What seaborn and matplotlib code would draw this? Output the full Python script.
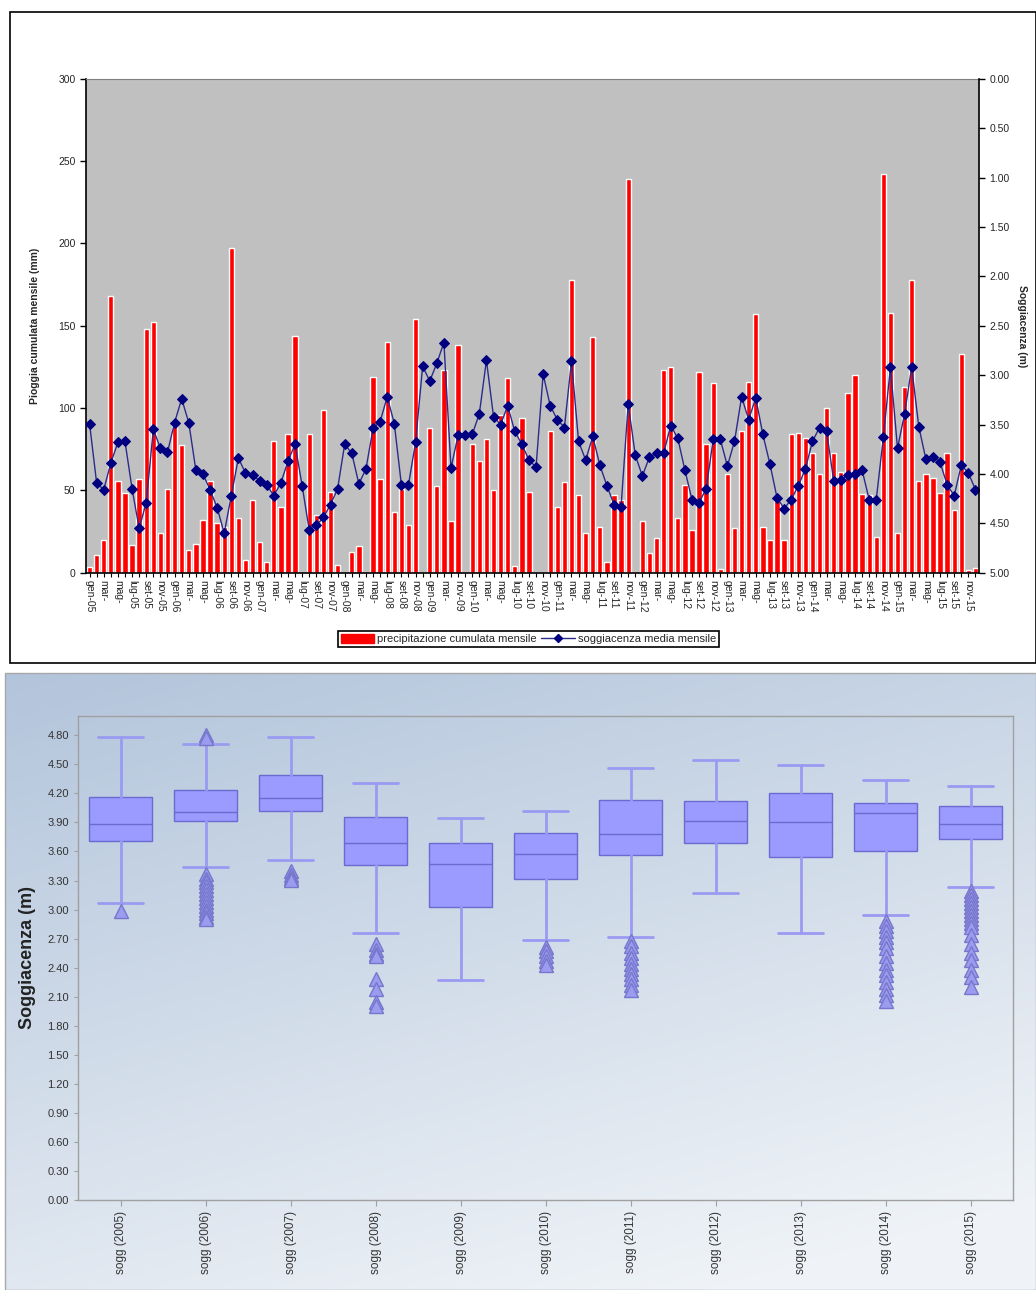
import matplotlib.pyplot as plt
import matplotlib.patches as mpatches
from matplotlib.lines import Line2D
from matplotlib.ticker import FormatStrFormatter
import numpy as np
import pandas as pd
import seaborn as sns

MESI = ["gen", "feb", "mar", "apr", "mag", "giu", "lug", "ago", "set", "ott", "nov", "dic"]
ANNI = list(range(2005, 2016))
# mesi assenti nella serie
MESI_MANCANTI = ["mag-09", "giu-09", "lug-09", "ago-09", "set-09", "ott-09"]

# precipitazione cumulata mensile (mm)
pioggia = [3.8, 11, 20, 168, 56, 48.5, 17, 57, 148, 152, 24, 51, 92, 77.5, 14, 17.5, 32, 56, 30, 28,
           197, 33, 7.5, 44, 18.6, 6.5, 80, 40, 84, 144, 0, 84, 35, 99, 49, 5, 0, 12.5, 16.5, 0,
           119, 57, 140, 37, 51, 29, 154, 0, 88, 52.5, 123, 31.7, 138, 0, 78, 68, 81, 50, 96, 118,
           4.4, 94, 49, 0, 0, 86, 40, 55, 178, 47, 24, 143, 27.7, 6.5, 47, 44, 239, 0, 31.7, 12,
           21, 123, 125, 33, 53, 26, 122, 78, 115, 2, 60, 27, 86, 116, 157, 27.5, 20, 45, 20, 84,
           85, 81.6, 72.5, 60, 100, 73, 61.4, 109, 120, 48, 47, 21.6, 242, 158, 24, 112.5, 178, 56, 60, 57.6,
           48.3, 73, 38, 133, 1.4, 2.6]

# soggiacenza media mensile (m)
soggiacenza = [3.49, 4.09, 4.16, 3.89, 3.68, 3.67, 4.15, 4.55, 4.29, 3.55, 3.74, 3.78, 3.48, 3.24, 3.48, 3.96, 4.00, 4.16, 4.34, 4.60,
               4.22, 3.84, 3.99, 4.01, 4.07, 4.11, 4.22, 4.09, 3.87, 3.70, 4.12, 4.57, 4.52, 4.44, 4.31, 4.15, 3.70, 3.79, 4.10, 3.95,
               3.54, 3.47, 3.22, 3.49, 4.11, 4.11, 3.68, 2.91, 3.06, 2.88, 2.67, 3.94, 3.61, 3.61, 3.60, 3.39, 2.85, 3.42, 3.50, 3.31,
               3.57, 3.70, 3.86, 3.93, 2.99, 3.31, 3.45, 3.53, 2.86, 3.67, 3.86, 3.62, 3.91, 4.12, 4.31, 4.33, 3.29, 3.81, 4.02, 3.83,
               3.79, 3.79, 3.51, 3.64, 3.96, 4.26, 4.29, 4.15, 3.65, 3.65, 3.92, 3.67, 3.22, 3.45, 3.23, 3.60, 3.90, 4.24, 4.35, 4.26,
               4.12, 3.95, 3.67, 3.53, 3.57, 4.07, 4.06, 4.01, 4.00, 3.96, 4.26, 4.26, 3.63, 2.92, 3.74, 3.39, 2.92, 3.52, 3.85, 3.83,
               3.88, 4.11, 4.22, 3.91, 3.99, 4.16]

# statistiche box plot annuali (m)
box_labels = [f"sogg ({a})" for a in ANNI]
box_q1 = [3.71, 3.91, 4.02, 3.46, 3.03, 3.32, 3.56, 3.69, 3.54, 3.61, 3.73]
box_med = [3.88, 4.01, 4.15, 3.69, 3.47, 3.57, 3.78, 3.91, 3.90, 4.00, 3.88]
box_q3 = [4.16, 4.24, 4.39, 3.96, 3.69, 3.79, 4.13, 4.12, 4.20, 4.10, 4.07]
box_whislo = [3.07, 3.44, 3.51, 2.76, 2.27, 2.69, 2.72, 3.17, 2.76, 2.94, 3.23]
box_whishi = [4.78, 4.71, 4.78, 4.31, 3.95, 4.02, 4.46, 4.55, 4.49, 4.34, 4.28]
box_fliers = [
    [2.98],
    [4.80, 4.77, 3.37, 3.32, 3.28, 3.24, 3.20, 3.16, 3.12, 3.08, 3.04, 3.00, 2.96, 2.92, 2.90],
    [3.40, 3.36, 3.33, 3.31],
    [2.64, 2.58, 2.54, 2.52, 2.28, 2.18, 2.05, 2.00],
    [],
    [2.61, 2.57, 2.52, 2.47, 2.43],
    [2.67, 2.62, 2.55, 2.50, 2.44, 2.39, 2.33, 2.28, 2.22, 2.17],
    [],
    [],
    [2.88, 2.83, 2.78, 2.72, 2.66, 2.60, 2.52, 2.45, 2.38, 2.32, 2.25, 2.18, 2.12, 2.06],
    [3.19, 3.15, 3.11, 3.07, 3.03, 2.98, 2.94, 2.90, 2.86, 2.82, 2.74, 2.64, 2.55, 2.48, 2.38, 2.30, 2.20],
]

sns.set_style("white")
plt.rcParams['font.family'] = ['Liberation Sans', 'DejaVu Sans']

mesi = [f"{m}-{a % 100:02d}" for a in ANNI for m in MESI]
mesi = [m for m in mesi if m not in MESI_MANCANTI]
df = pd.DataFrame({"mese": mesi, "pioggia": pioggia, "soggiacenza": soggiacenza})

fig = plt.figure(figsize=(10.36, 12.9), dpi=100)

# sfondo sfumato del pannello inferiore
ax_bg = fig.add_axes([0.005, 0.0, 0.995, 0.478], zorder=0)
v, h = np.mgrid[0:1:200j, 0:1:200j]
t = np.clip(0.75 * v + 0.35 * h, 0, 1)
c0 = np.array([0.70, 0.77, 0.86])
c1 = np.array([0.94, 0.955, 0.97])
grad = c0[None, None, :] * (1 - t[..., None]) + c1[None, None, :] * t[..., None]
ax_bg.imshow(grad, aspect="auto", extent=[0, 1, 0, 1])
ax_bg.set_axis_off()
fig.add_artist(mpatches.Rectangle((0.005, 0.0), 0.995, 0.478, transform=fig.transFigure,
                                  fill=False, edgecolor="#a8a8a8", lw=1))

# pannello superiore: pioggia + soggiacenza
fig.add_artist(mpatches.Rectangle((0.0097, 0.486), 0.99, 0.5045, transform=fig.transFigure,
                                  fill=False, edgecolor="black", lw=1.2))
ax1 = fig.add_axes([0.083, 0.556, 0.862, 0.383], zorder=2)
ax1.set_facecolor("#c0c0c0")
sns.barplot(data=df, x="mese", y="pioggia", color="#ff0000", saturation=1, width=0.75, ax=ax1)
ax1.set_ylim(0, 300)
ax1.set_yticks(range(0, 301, 50))
ax1.set_xlim(-0.5, len(mesi) - 0.5)
tick_txt = []
for i, m in enumerate(mesi):
    nome = m.split("-")[0]
    if i % 2:
        tick_txt.append("")
    elif nome in ("mar", "mag"):
        tick_txt.append(nome + "-")
    else:
        tick_txt.append(m)
ax1.set_xticks(range(len(mesi)))
ax1.set_xticklabels(tick_txt, rotation=-90, fontsize=7.5, ha="center", va="top")
ax1.tick_params(axis="x", length=3, width=0.8, color="black", pad=2, bottom=True)
ax1.tick_params(axis="y", length=4, width=1, color="black", labelsize=7.5, left=True)
ax1.set_xlabel("")
ax1.set_ylabel("Pioggia cumulata mensile (mm)", fontsize=7.5, fontweight="bold")
ax1.yaxis.set_label_coords(-0.052, 0.5)
for s in ("left", "bottom"):
    ax1.spines[s].set_color("black")
    ax1.spines[s].set_linewidth(1.2)
ax1.spines["top"].set_color("#808080")
ax1.spines["right"].set_visible(False)

ax2 = ax1.twinx()
sns.lineplot(x=np.arange(len(df)), y=df["soggiacenza"], ax=ax2, color="#2b2b8c", linewidth=1,
             marker="D", markersize=5, markerfacecolor="#000080", markeredgecolor="#000080")
ax2.set_ylim(5, 0)
ax2.set_yticks(np.arange(0, 5.01, 0.5))
ax2.yaxis.set_major_formatter(FormatStrFormatter("%.2f"))
ax2.tick_params(axis="y", length=4, width=1, color="black", labelsize=7.5, right=True)
ax2.set_ylabel("Soggiacenza (m)", fontsize=7.5, fontweight="bold", rotation=-90)
ax2.yaxis.set_label_coords(1.054, 0.5)
ax2.spines["right"].set_color("black")
ax2.spines["right"].set_linewidth(1.2)
for s in ("left", "top", "bottom"):
    ax2.spines[s].set_visible(False)

handles = [mpatches.Patch(facecolor="#ff0000", edgecolor="#ff0000"),
           Line2D([], [], color="#2b2b8c", lw=1, marker="D", markersize=4,
                  markerfacecolor="#000080", markeredgecolor="#000080")]
leg = fig.legend(handles, ["precipitazione cumulata mensile", "soggiacenza media mensile"],
                 loc="center", bbox_to_anchor=(0.51, 0.5045), ncol=2, frameon=True, fancybox=False,
                 edgecolor="black", framealpha=1, fontsize=8, handlelength=3, handleheight=0.8,
                 borderpad=0.25, columnspacing=0.4, handletextpad=0.3)
leg.get_frame().set_linewidth(1.2)

# pannello inferiore: box plot annuali
ax3 = fig.add_axes([0.0753, 0.0698, 0.9025, 0.3752], zorder=2)
ax3.set_facecolor("none")
stats = [dict(label=box_labels[i], q1=box_q1[i], med=box_med[i], q3=box_q3[i],
              whislo=box_whislo[i], whishi=box_whishi[i], fliers=box_fliers[i])
         for i in range(len(box_labels))]
ax3.bxp(stats, positions=range(len(stats)), widths=0.73, capwidths=0.53, patch_artist=True,
        showfliers=True,
        boxprops=dict(facecolor="#9b9bff", edgecolor="#6a6ad0", linewidth=1),
        medianprops=dict(color="#6a6ad0", linewidth=1),
        whiskerprops=dict(color="#9a9af2", linewidth=2),
        capprops=dict(color="#9a9af2", linewidth=2),
        flierprops=dict(marker="^", markerfacecolor="#9b9bf0", markeredgecolor="#7676cc",
                        markersize=10, linestyle="none"))
ax3.set_xlim(-0.5, len(stats) - 0.5)
ax3.set_ylim(0, 5.0)
ax3.set_yticks(np.arange(0, 4.81, 0.3))
ax3.yaxis.set_major_formatter(FormatStrFormatter("%.2f"))
ax3.set_xticks(range(len(stats)))
ax3.set_xticklabels(box_labels, rotation=90, fontsize=8.5, color="#333333", ha="center", va="top")
ax3.tick_params(axis="y", labelsize=8, labelcolor="#333333", length=3, color="#a0a0a0", left=True)
ax3.tick_params(axis="x", length=4, color="#a0a0a0", bottom=True, pad=4)
ax3.set_ylabel("Soggiacenza (m)", fontsize=13, fontweight="bold", color="#222222")
ax3.yaxis.set_label_coords(-0.045, 0.5)
for s in ax3.spines.values():
    s.set_color("#a0a0a0")
    s.set_linewidth(1)

fig.savefig("out.png", dpi=100)
